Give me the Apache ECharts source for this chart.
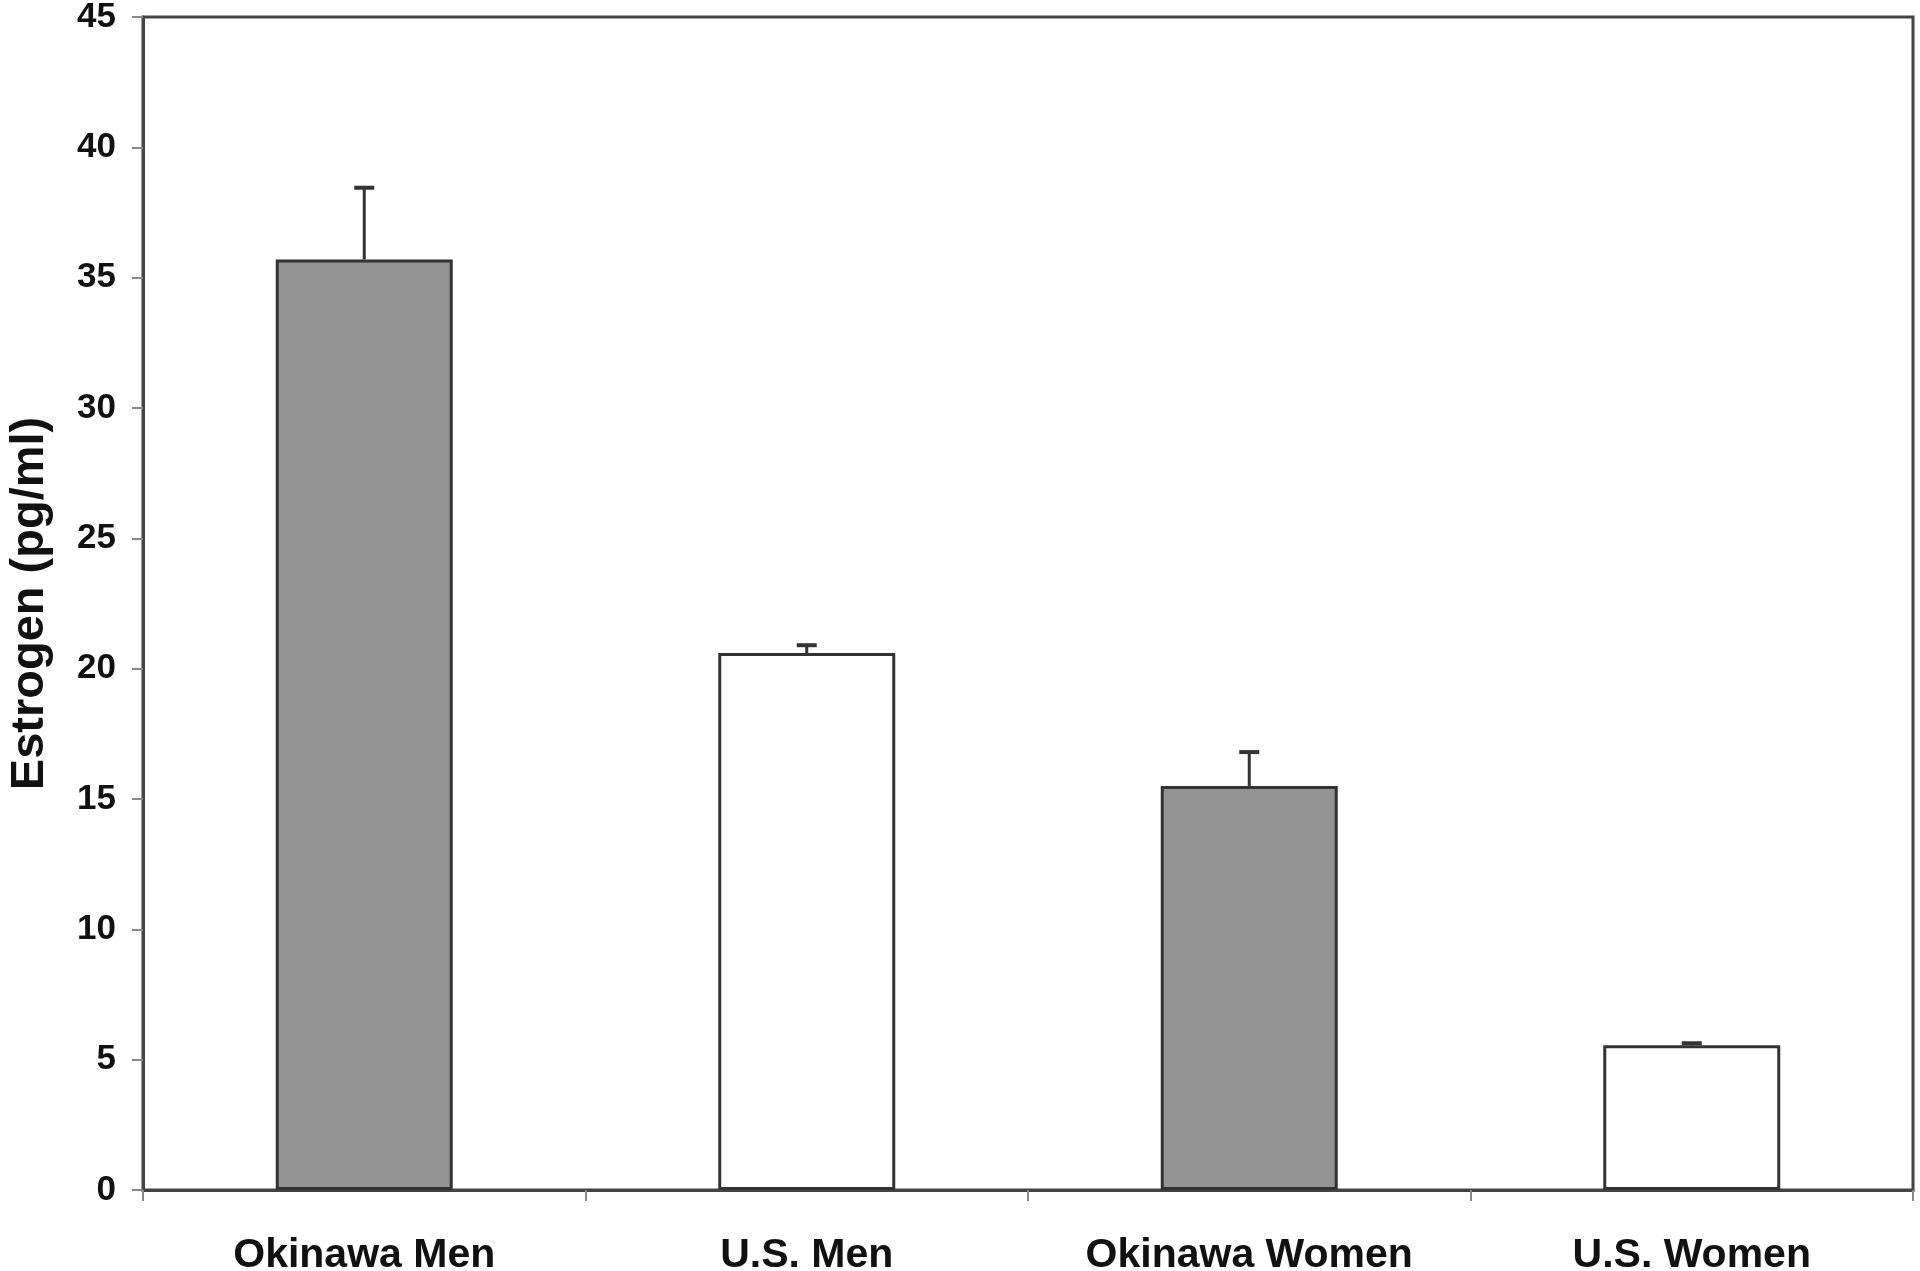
<!DOCTYPE html>
<html>
<head>
<meta charset="utf-8">
<script src="https://cdn.jsdelivr.net/npm/echarts@6/dist/echarts.min.js"></script>
<style>html,body{margin:0;padding:0;background:#fff;}#c{width:1920px;height:1271px;}</style>
</head>
<body>
<div id="c"></div>
<script>
const categories = ['Okinawa Men', 'U.S. Men', 'Okinawa Women', 'U.S. Women'];
const values = [35.7, 20.6, 15.5, 5.55];
const errors = [2.75, 0.3, 1.3, 0.08];
const fills = ['#939393', '#ffffff', '#939393', '#ffffff'];
const yTicks = [0, 5, 10, 15, 20, 25, 30, 35, 40, 45];

const chart = echarts.init(document.getElementById('c'), null, {renderer: 'canvas'});
const font = '"Liberation Sans", Arial, sans-serif';
chart.setOption({
  animation: false,
  backgroundColor: '#fff',
  grid: {left: 143, right: 7, top: 17, bottom: 81, containLabel: false, outerBoundsMode: 'none',
    show: true, borderColor: '#444', borderWidth: 3, backgroundColor: 'transparent'},
  xAxis: {
    type: 'category',
    data: categories,
    axisLine: {lineStyle: {color: '#444', width: 3}},
    axisTick: {show: true, length: 11, lineStyle: {color: '#888', width: 2}},
    axisLabel: {margin: 45, fontFamily: font, fontWeight: 'bold', fontSize: 41, color: '#111'}
  },
  yAxis: {
    type: 'value',
    min: 0, max: 45, interval: 5,
    name: 'Estrogen (pg/ml)',
    nameLocation: 'middle',
    nameGap: 89,
    nameRotate: 90,
    nameTextStyle: {fontFamily: font, fontWeight: 'bold', fontSize: 47, color: '#111'},
    splitLine: {show: false},
    axisLine: {show: true, lineStyle: {color: '#444', width: 3}},
    axisTick: {show: true, length: 11, lineStyle: {color: '#888', width: 2}},
    axisLabel: {margin: 27, fontFamily: font, fontWeight: 'bold', fontSize: 35, color: '#111',
      formatter: v => yTicks.includes(v) ? String(v) : ''}
  },
  series: [
    {
      type: 'bar',
      barWidth: '40%',
      data: values.map((v, i) => ({value: v, itemStyle: {color: fills[i]}})),
      itemStyle: {borderColor: '#333', borderWidth: 3},
      z: 2
    },
    {
      type: 'custom',
      z: 3,
      data: values.map((v, i) => [i, v, v + errors[i]]),
      renderItem: function (params, api) {
        const x = api.value(0);
        const base = api.coord([x, api.value(1)]);
        const top = api.coord([x, api.value(2)]);
        const hw = 10;
        return {
          type: 'group',
          children: [
            {type: 'line', shape: {x1: base[0], y1: base[1], x2: top[0], y2: top[1]}, style: {stroke: '#333', lineWidth: 3}},
            {type: 'line', shape: {x1: top[0] - hw, y1: top[1], x2: top[0] + hw, y2: top[1]}, style: {stroke: '#333', lineWidth: 4}}
          ]
        };
      }
    }
  ]
});
</script>
</body>
</html>
